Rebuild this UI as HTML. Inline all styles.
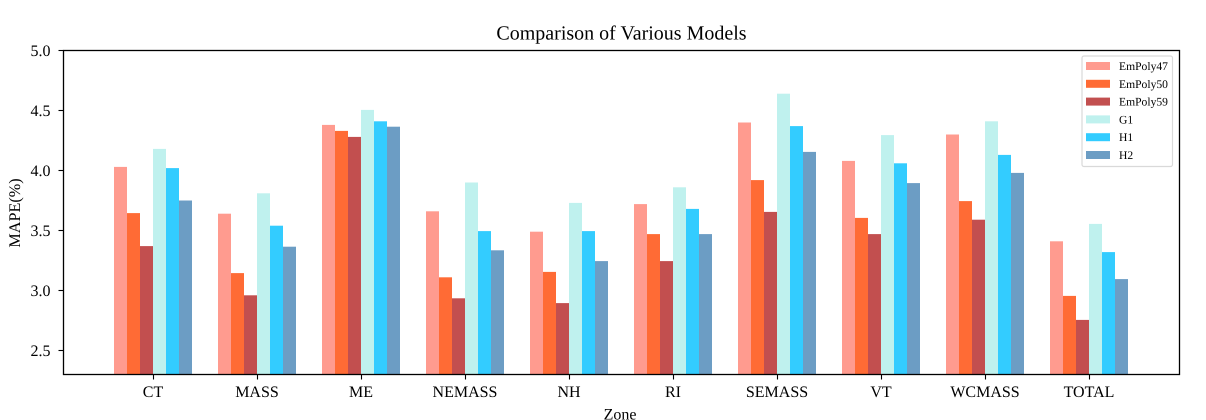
<!DOCTYPE html>
<html lang="en">
<head>
<meta charset="utf-8">
<title>Comparison of Various Models</title>
<style>
html,body{margin:0;padding:0;background:#fff;width:1206px;height:420px;overflow:hidden}
svg{display:block}
text{font-family:"Liberation Serif",serif;fill:#000;text-rendering:geometricPrecision}
</style>
</head>
<body>
<svg id="chart" width="1206" height="420" viewBox="0 0 1206 420" xmlns="http://www.w3.org/2000/svg"></svg>
<script>
const categories = ["CT","MASS","ME","NEMASS","NH","RI","SEMASS","VT","WCMASS","TOTAL"];
const seriesNames = ["EmPoly47","EmPoly50","EmPoly59","G1","H1","H2"];
const seriesColors = ["#ff9b8f","#ff6b35","#c24f4f","#bff1ee","#33ccff","#6c9dc4"];
const emPoly47 = [4.03,3.64,4.38,3.66,3.49,3.72,4.40,4.08,4.30,3.41];
const emPoly50 = [3.645,3.145,4.33,3.11,3.155,3.47,3.92,3.605,3.745,2.955];
const emPoly59 = [3.37,2.96,4.28,2.935,2.895,3.245,3.655,3.47,3.59,2.755];
const g1 = [4.18,3.81,4.505,3.90,3.73,3.86,4.64,4.295,4.41,3.555];
const h1 = [4.02,3.54,4.41,3.495,3.495,3.68,4.37,4.06,4.13,3.32];
const h2 = [3.75,3.365,4.365,3.335,3.245,3.47,4.155,3.895,3.98,3.095];
const yTicks = ["2.5","3.0","3.5","4.0","4.5","5.0"];
const yMin = 2.3;
const yMax = 5.0;

const allSeries = [emPoly47,emPoly50,emPoly59,g1,h1,h2];
const svg = document.getElementById('chart');
const NS = 'http://www.w3.org/2000/svg';
const plot = {left:63.5,right:1179.5,top:50.5,bottom:374.5};
const barWidth = 13;
const yScale = v => plot.bottom - (v - yMin) / (yMax - yMin) * (plot.bottom - plot.top);
const xScale = i => 153 + i * 104;

function make(tag, attrs, text) {
  const el = document.createElementNS(NS, tag);
  for (const k in attrs) el.setAttribute(k, attrs[k]);
  if (text !== undefined) el.textContent = text;
  svg.appendChild(el);
  return el;
}

// bars
allSeries.forEach((vals, s) => {
  vals.forEach((v, i) => {
    const y = yScale(v);
    const bar = make('rect', {
      x: xScale(i) + (s - 3) * barWidth,
      y: y,
      width: barWidth,
      height: Math.max(0, plot.bottom - y),
      fill: seriesColors[s]
    });
    
    
  });
});

// plot frame
const frame = make('rect', {
  x: plot.left, y: plot.top,
  width: plot.right - plot.left, height: plot.bottom - plot.top,
  fill: 'none', stroke: '#000', 'stroke-width': 1.3
});



// y ticks
yTicks.forEach(t => {
  const y = Math.round(yScale(parseFloat(t)) - 0.5) + 0.5;
  const tick = make('line', {x1: plot.left - 5, x2: plot.left, y1: y, y2: y, stroke: '#000', 'stroke-width': 1.1});
  
  
  const label = make('text', {x: 50.5, y: y + 5.5, 'text-anchor': 'end', 'font-size': 16}, t);
  
  
});

// x ticks
categories.forEach((c, i) => {
  const x = xScale(i) + 0.5;
  const tick = make('line', {x1: x, x2: x, y1: plot.bottom, y2: plot.bottom + 5, stroke: '#000', 'stroke-width': 1.1});
  
  
  const label = make('text', {x: x - 0.5, y: 397, 'text-anchor': 'middle', 'font-size': 16}, c);
  
  
});

// titles
const title = make('text', {x: 621.5, y: 39.5, 'text-anchor': 'middle', 'font-size': 20}, 'Comparison of Various Models');


const xTitle = make('text', {x: 620, y: 419.5, 'text-anchor': 'middle', 'font-size': 16}, 'Zone');


const yTitle = make('text', {x: 0, y: 0, 'text-anchor': 'middle', 'font-size': 16.2, transform: 'translate(20 213) rotate(-90)'}, 'MAPE(%)');



// legend
const legendBox = make('rect', {x: 1082, y: 56, width: 90.5, height: 110.5, rx: 2, ry: 2, fill: '#fff', 'fill-opacity': 0.8, stroke: '#d9d9d9', 'stroke-width': 1.2});


seriesNames.forEach((n, s) => {
  const cy = 66 + s * 17.8;
  const swatch = make('rect', {x: 1086, y: cy - 4, width: 24, height: 8, fill: seriesColors[s]});
  
  
  const label = make('text', {x: 1119, y: cy + 4, 'font-size': 11.6}, n);
  
  
});
</script>
</body>
</html>
